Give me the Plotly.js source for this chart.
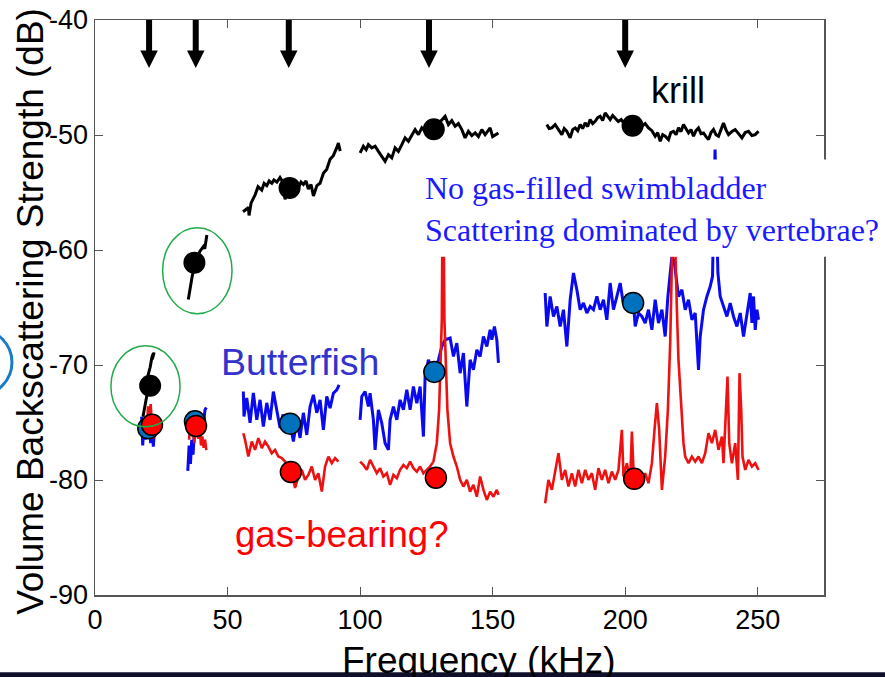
<!DOCTYPE html>
<html>
<head>
<meta charset="utf-8">
<script src="https://cdn.plot.ly/plotly-3.0.1.min.js"></script>
<style>html,body{margin:0;padding:0;background:#fff;}#chart{width:885px;height:677px;}</style>
</head>
<body>
<div id="chart"></div>
<script>
// ---------------- DATA ----------------
// Krill (black) spectra, by band segment
const krillF1 = [18.1, 18.9, 19.6, 20.0, 20.8, 21.5, 22.0, 21.6, 22.3];
const krillS1 = [-74.5, -73.5, -72.6, -70.9, -70.2, -69.3, -69.0, -69.5, -68.9];
const krillF2 = [35.2, 35.8, 36.5, 37.7, 39.6, 40.9, 41.4, 42.2];
const krillS2 = [-64.3, -63.4, -62.5, -61.1, -60.1, -59.7, -59.9, -58.7];
const krillF3 = [55.85, 57.9, 58.1, 58.9, 60.4, 61.5, 62.9, 63.8, 64.8, 65.7, 66.7, 67.5, 68.6, 69.8, 70.9, 71.7, 72.5, 73.6, 74.7, 75.8, 76.7, 77.7, 78.6, 79.6, 80.5, 81.5, 82.4, 83.7, 84.9, 86.2, 87.4, 88.7, 89.9, 91.2, 91.8, 92.5];
const krillS3 = [-56.67, -56.3, -57.0, -55.9, -55.2, -54.5, -54.8, -54.2, -54.4, -54.0, -54.2, -53.9, -54.1, -53.7, -54.1, -55.6, -54.4, -54.7, -55.0, -54.4, -54.6, -54.1, -54.3, -54.0, -54.7, -54.3, -55.3, -54.4, -54.2, -53.3, -53.0, -52.1, -51.8, -51.1, -50.7, -51.4];
const krillF4 = [100.0, 101.25, 102.3, 103.13, 104.42, 105.66, 106.91, 108.19, 109.43, 110.68, 111.96, 113.21, 114.45, 115.74, 116.98, 118.23, 119.51, 120.75, 122.0, 123.28, 124.53, 125.77, 127.06, 128.3, 129.55, 130.83, 132.08, 133.32, 134.6, 135.85, 137.09, 138.38, 139.62, 140.87, 142.15, 143.4, 144.64, 145.92, 147.17, 148.3, 149.06, 150.0, 150.94, 152.19];
const krillS4 = [-51.56, -50.98, -51.27, -50.84, -51.12, -50.98, -51.42, -51.85, -52.29, -51.71, -51.99, -51.12, -51.42, -50.84, -50.25, -50.55, -49.97, -49.53, -49.97, -49.38, -49.7, -49.27, -49.62, -49.53, -49.01, -48.66, -48.37, -49.09, -48.75, -49.24, -49.01, -49.53, -50.25, -49.68, -50.05, -49.82, -50.14, -49.53, -49.97, -49.62, -49.38, -50.14, -49.97, -49.82];
const krillF5 = [170.45, 171.3, 172.34, 173.58, 174.83, 176.11, 177.0, 178.0, 179.25, 180.2, 181.13, 182.1, 183.02, 183.96, 184.91, 185.85, 186.79, 187.74, 188.68, 189.62, 190.57, 191.51, 192.45, 193.4, 194.34, 195.28, 196.23, 197.4, 198.5, 199.6, 200.8, 202.53, 204.2, 206.3, 207.55, 208.79, 210.08, 211.32, 212.26, 213.21, 214.15, 215.09, 216.34, 217.2, 218.23, 219.2, 220.11, 221.05, 222.0, 222.94, 223.89, 224.83, 225.77, 226.72, 227.66, 228.6, 229.55, 230.49, 231.43, 232.38, 233.32, 234.26, 235.21, 236.15, 237.09, 238.0, 238.98, 240.26, 241.51, 242.75, 244.04, 245.28, 246.53, 247.81, 249.06, 250.3];
const krillS5 = [-49.09, -49.44, -49.38, -49.09, -49.53, -49.97, -49.44, -49.68, -50.25, -49.53, -49.38, -49.62, -49.09, -49.44, -48.95, -49.27, -48.66, -49.01, -48.81, -48.49, -48.37, -48.75, -48.08, -48.4, -48.66, -48.31, -48.51, -48.83, -48.66, -49.01, -48.75, -49.09, -48.92, -49.24, -49.01, -49.38, -49.62, -50.11, -49.79, -50.55, -49.97, -50.11, -50.4, -49.79, -49.68, -49.97, -49.38, -49.7, -49.09, -49.44, -49.82, -49.53, -50.11, -49.62, -49.38, -49.88, -49.82, -50.14, -50.4, -49.79, -49.53, -49.97, -50.11, -49.53, -48.95, -49.53, -49.97, -49.7, -49.53, -49.88, -50.25, -49.79, -49.68, -50.05, -49.97, -49.68];

// Butterfish, no swimbladder (blue)
const blueF1 = [17.6, 18.0, 18.5, 19.0, 19.5, 20.0, 20.5, 21.0, 21.5, 22.0, 22.5];
const blueS1 = [-74.5, -77.0, -74.8, -76.5, -75.0, -75.5, -74.9, -76.8, -75.2, -77.1, -75.5];
const blueF2 = [35.0, 35.5, 36.0, 36.5, 37.0, 37.5, 38.0, 38.5, 39.0, 39.5, 40.0, 40.5, 41.0, 41.5, 42.0];
const blueS2 = [-79.2, -77.0, -78.6, -76.5, -77.8, -75.6, -76.2, -75.0, -75.8, -74.9, -75.5, -74.6, -74.9, -73.9, -73.7];
const blueF3 = [55.96, 56.2, 57.25, 58.49, 59.74, 61.02, 62.26, 63.51, 64.79, 66.04, 67.28, 68.57, 69.81, 70.9, 72.5, 73.58, 74.83, 76.11, 77.36, 78.6, 79.89, 81.13, 82.38, 83.66, 84.91, 86.15, 87.43, 88.68, 89.92, 91.21, 92.08];
const blueS3 = [-72.31, -74.48, -72.86, -75.03, -72.42, -74.77, -73.03, -75.35, -73.29, -74.77, -72.31, -73.9, -75.47, -74.3, -75.6, -75.03, -76.66, -74.77, -76.34, -74.16, -76.08, -73.61, -72.59, -74.16, -73.03, -75.64, -72.74, -73.75, -72.45, -72.16, -71.72];
const blueF4 = [100.0, 100.64, 101.89, 103.13, 103.77, 105.02, 105.66, 106.91, 108.19, 109.43, 110.68, 111.32, 112.57, 113.85, 115.09, 116.34, 117.62, 118.87, 120.11, 121.4, 122.64, 123.89, 124.53, 125.77, 126.8, 128.3, 129.55, 130.83, 132.08, 133.96, 135.21, 136.49, 137.74, 138.98, 140.26, 141.51, 142.75, 144.04, 145.28, 146.53, 147.81, 149.06, 149.7, 150.68, 151.58, 152.19];
const blueS4 = [-74.77, -72.74, -72.31, -73.61, -72.45, -74.77, -77.38, -73.9, -75.06, -76.8, -77.38, -74.77, -73.61, -74.77, -73.03, -73.9, -72.16, -73.9, -71.87, -73.32, -71.87, -76.22, -71.0, -69.55, -70.25, -70.57, -69.55, -68.39, -67.81, -67.66, -69.26, -68.09, -70.71, -68.96, -73.61, -69.55, -70.42, -68.68, -69.26, -67.52, -68.39, -66.94, -67.81, -66.65, -67.81, -69.81];
const blueF5 = [169.81, 170.45, 171.7, 172.94, 174.23, 175.47, 176.72, 178.0, 179.25, 180.49, 181.77, 183.02, 184.26, 185.55, 186.79, 188.04, 189.32, 190.57, 191.81, 193.09, 194.34, 195.58, 196.87, 198.11, 199.36, 200.64, 201.89, 203.13, 203.77, 205.02, 206.3, 207.55, 208.79, 210.08, 211.32, 212.57, 213.85, 215.09, 216.11, 216.98, 217.62, 218.5, 219.2, 220.11, 221.4, 222.64, 223.89, 225.17, 226.42, 227.66, 228.3, 229.55, 230.83, 232.08, 232.94, 233.5, 233.9, 234.3, 234.98, 235.85, 237.09, 238.38, 239.62, 240.87, 242.15, 243.4, 244.64, 245.92, 247.17, 247.81, 248.42, 249.06, 249.7, 250.3];
const blueS5 = [-63.74, -66.65, -64.04, -65.78, -64.91, -66.65, -65.19, -68.39, -64.32, -62.0, -63.45, -65.19, -64.61, -65.48, -64.91, -65.19, -64.04, -65.19, -64.32, -66.07, -62.87, -65.19, -64.04, -62.87, -64.76, -63.89, -65.19, -64.61, -66.65, -65.48, -65.78, -66.35, -65.19, -66.94, -64.32, -66.35, -65.19, -67.52, -64.04, -62.3, -60.56, -61.0, -62.58, -64.04, -63.45, -65.19, -64.32, -66.07, -65.48, -70.42, -67.52, -65.19, -64.04, -63.17, -62.3, -55.6, -51.27, -55.6, -62.0, -64.04, -64.91, -65.78, -64.61, -65.78, -66.65, -65.48, -67.52, -65.78, -63.74, -66.35, -64.04, -66.94, -65.19, -66.07];

// Gas-bearing (red)
const redF1 = [18.5, 19.0, 19.5, 20.0, 20.5, 21.0, 21.5, 22.0, 22.5];
const redS1 = [-76.0, -74.5, -76.3, -73.6, -75.0, -73.4, -75.5, -76.4, -75.8];
const redF2 = [35.5, 36.0, 36.5, 37.0, 37.5, 38.0, 38.5, 39.0, 39.5, 40.0, 40.5, 41.0, 41.5, 42.0];
const redS2 = [-76.5, -74.8, -76.0, -75.3, -76.8, -75.0, -75.9, -76.4, -75.6, -77.0, -76.2, -77.2, -76.5, -77.4];
const redF3 = [55.96, 56.6, 57.85, 59.13, 60.38, 61.62, 62.91, 64.15, 65.4, 66.68, 67.92, 69.17, 70.45, 71.7, 72.94, 74.23, 75.47, 76.72, 78.0, 79.25, 80.49, 81.77, 83.02, 84.26, 85.55, 86.79, 88.04, 89.32, 90.57, 91.81];
const redS3 = [-75.93, -76.51, -77.96, -76.66, -77.38, -76.36, -77.23, -76.66, -77.09, -77.67, -77.38, -77.96, -78.1, -78.4, -78.83, -79.27, -80.69, -79.7, -79.12, -79.99, -79.56, -78.83, -79.99, -79.41, -81.01, -78.83, -77.96, -78.54, -78.1, -78.4];
const redF4 = [100.0, 101.25, 102.53, 103.77, 105.02, 106.3, 107.55, 108.79, 110.08, 111.32, 112.57, 113.85, 115.09, 116.34, 117.62, 118.87, 120.11, 121.4, 122.64, 123.89, 125.17, 126.42, 127.66, 128.94, 129.81, 130.45, 130.83, 131.06, 131.5, 131.81, 132.34, 132.94, 133.96, 135.21, 136.49, 137.74, 138.98, 140.26, 141.51, 142.75, 144.04, 145.28, 146.53, 147.81, 149.06, 150.3, 151.58, 152.19];
const redS4 = [-78.4, -78.69, -79.12, -78.25, -78.83, -79.41, -78.97, -79.7, -79.41, -80.43, -79.56, -79.84, -79.12, -78.69, -78.97, -78.4, -78.97, -79.27, -78.83, -79.41, -79.12, -78.83, -78.4, -76.8, -73.9, -69.55, -66.07, -57.4, -57.4, -66.07, -69.55, -73.9, -76.8, -77.96, -78.83, -79.99, -80.57, -79.99, -81.01, -80.43, -81.45, -79.7, -80.86, -81.73, -81.01, -81.45, -80.86, -81.3];
const redF5 = [169.81, 171.06, 172.34, 173.58, 174.83, 176.11, 177.36, 178.6, 179.89, 181.13, 182.38, 183.66, 184.91, 186.15, 187.43, 188.68, 189.92, 191.21, 192.45, 193.7, 194.98, 196.23, 197.47, 198.75, 199.36, 200.64, 201.89, 202.53, 203.13, 203.77, 205.02, 206.3, 207.55, 208.79, 210.08, 211.06, 211.96, 212.83, 213.85, 215.09, 216.11, 216.98, 217.62, 218.0, 218.6, 219.1, 219.51, 220.11, 221.4, 222.0, 222.64, 223.89, 225.17, 226.42, 227.66, 228.94, 230.19, 231.43, 232.72, 233.96, 235.21, 236.49, 237.09, 238.0, 238.6, 239.25, 240.26, 241.51, 242.53, 243.13, 243.77, 244.26, 245.28, 246.53, 247.81, 249.06, 250.3];
const redS5 = [-82.02, -79.99, -80.86, -79.12, -77.67, -79.99, -79.12, -80.57, -79.41, -80.57, -79.12, -80.28, -79.12, -79.99, -79.41, -80.86, -78.97, -79.99, -79.12, -80.28, -79.27, -79.99, -79.12, -75.64, -79.7, -78.54, -79.99, -75.79, -79.12, -79.7, -79.12, -79.99, -79.41, -80.28, -78.54, -75.64, -73.32, -75.64, -80.86, -77.96, -73.9, -68.09, -62.3, -57.0, -57.0, -62.3, -65.19, -69.55, -73.9, -76.8, -77.96, -78.54, -77.96, -78.4, -77.96, -78.54, -77.67, -75.93, -76.8, -75.64, -77.38, -76.22, -78.54, -73.9, -71.0, -76.8, -78.54, -76.8, -79.99, -70.71, -73.9, -77.96, -79.12, -78.25, -78.83, -78.54, -79.12];

// Echosounder-frequency summary points
const krillDotF = [20.8, 37.5, 73.4, 127.8, 202.8];
const krillDotS = [-71.8, -61.1, -54.6, -49.5, -49.2];
const blueDotF = [20.1, 37.7, 73.6, 128.0, 203.0];
const blueDotS = [-75.5, -74.9, -75.1, -70.6, -64.6];
const redDotF = [21.5, 38.1, 73.9, 128.6, 203.4];
const redDotS = [-75.2, -75.3, -79.3, -79.8, -79.9];

// Arrow positions (kHz)
const arrowFreqs = [20.4, 38.0, 73.1, 126.0, 200.0];

// Circled krill points [x0, x1, y0, y1]
const circledRegions = [[6.0, 32.1, -75.38, -68.33], [25.5, 51.7, -65.54, -58.06]];

// Axis ticks
const xTickVals = [0, 50, 100, 150, 200, 250];
const xTickText = ['0', '50', '100', '150', '200', '250'];
const yTickVals = [-90, -80, -70, -60, -50, -40];
const yTickText = ['-90', '-80', '-70', '-60', '-50', '-40'];

const xTitle = 'Frequency (kHz)';
const yTitle = 'Volume Backscattering Strength (dB)';

// ---------------- BUILD ----------------
function joinSegs(list) {
  const out = [];
  list.forEach((s, i) => { if (i) out.push(null); s.forEach(v => out.push(v)); });
  return out;
}
const FONT = 'Liberation Sans, Arial, Helvetica, sans-serif';
const SERIF = 'Liberation Serif, Times New Roman, serif';

const traces = [
  {x: joinSegs([krillF1, krillF2, krillF3, krillF4, krillF5]), y: joinSegs([krillS1, krillS2, krillS3, krillS4, krillS5]),
   mode: 'lines', line: {color: '#000000', width: 3}, connectgaps: false},
  {x: joinSegs([blueF1, blueF2, blueF3, blueF4, blueF5]), y: joinSegs([blueS1, blueS2, blueS3, blueS4, blueS5]),
   mode: 'lines', line: {color: '#0a0aee', width: 3}, connectgaps: false},
  {x: joinSegs([redF1, redF2, redF3, redF4, redF5]), y: joinSegs([redS1, redS2, redS3, redS4, redS5]),
   mode: 'lines', line: {color: '#ee1111', width: 2.6}, connectgaps: false},
  {x: blueDotF, y: blueDotS, mode: 'markers', marker: {size: 21, color: '#0072BD', line: {color: '#000', width: 1.5}}},
  {x: redDotF, y: redDotS, mode: 'markers', marker: {size: 21, color: '#ff0000', line: {color: '#000', width: 1.5}}},
  {x: krillDotF, y: krillDotS, mode: 'markers', marker: {size: 22, color: '#000000', line: {width: 0}}}
];

const shapes = [];
arrowFreqs.forEach(f => {
  shapes.push({type: 'line', xref: 'x', yref: 'y', x0: f, x1: f, y0: -40, y1: -42.8, line: {color: '#000', width: 6}});
  shapes.push({type: 'path', xref: 'x', yref: 'y', path: `M ${f - 3.3},-42.65 L ${f + 3.3},-42.65 L ${f},-44.18 Z`, fillcolor: '#000', line: {width: 0}});
});
circledRegions.forEach(r => {
  shapes.push({type: 'circle', xref: 'x', yref: 'y', x0: r[0], x1: r[1], y0: r[2], y1: r[3], line: {color: '#22aa4a', width: 1.5}});
});
// white label box covering part of the plot
shapes.push({type: 'rect', xref: 'paper', yref: 'paper', x0: 0.4458, x1: 1.1, y0: 0.5883, y1: 0.7572, fillcolor: '#ffffff', line: {width: 0}, layer: 'above'});
// partial blue circle at left edge
shapes.push({type: 'circle', xref: 'paper', yref: 'paper', x0: -0.2044, x1: -0.1139, y0: 0.3473, y1: 0.4621, line: {color: '#1a7cc8', width: 3}, layer: 'above'});
// dark strip at the bottom
shapes.push({type: 'rect', xref: 'paper', yref: 'paper', x0: -0.2, x1: 1.2, y0: -0.16, y1: -0.1345, fillcolor: '#10102a', line: {width: 0}, layer: 'above'});

const annotations = [
  {x: 220, y: -46.1, xref: 'x', yref: 'y', text: 'krill', showarrow: false, font: {family: FONT, size: 36, color: '#000'}, xanchor: 'center', yanchor: 'middle'},
  {x: 77.4, y: -69.7, xref: 'x', yref: 'y', text: 'Butterfish', showarrow: false, font: {family: FONT, size: 37.5, color: '#3333cc'}, xanchor: 'center', yanchor: 'middle'},
  {x: 93.0, y: -84.7, xref: 'x', yref: 'y', text: 'gas-bearing?', showarrow: false, font: {family: FONT, size: 36.6, color: '#ff0000'}, xanchor: 'center', yanchor: 'middle'},
  {x: 0.4500, y: 0.7424, xref: 'paper', yref: 'paper', text: 'No gas-filled swimbladder<br>Scattering dominated by vertebrae?', showarrow: false, align: 'left', font: {family: SERIF, size: 32, color: '#1a1aff'}, xanchor: 'left', yanchor: 'top'},
  // axis titles
  {x: 0.5267, y: -0.1144, xref: 'paper', yref: 'paper', text: xTitle, showarrow: false, font: {family: FONT, size: 37, color: '#000'}, xanchor: 'center', yanchor: 'middle'},
  {x: -0.0878, y: 0.4943, xref: 'paper', yref: 'paper', text: yTitle, textangle: -90, showarrow: false, font: {family: FONT, size: 37, color: '#000'}, xanchor: 'center', yanchor: 'middle'}
];

const axisCommon = {
  showgrid: false, zeroline: false, showline: true, linecolor: '#555', linewidth: 1.5,
  mirror: 'ticks', ticks: 'inside', ticklen: 8, tickwidth: 1, tickcolor: '#555',
  tickfont: {family: FONT, size: 27, color: '#000'}, tickmode: 'array'
};

const layout = {
  width: 885, height: 677,
  margin: {l: 95, r: 61, t: 20, b: 82, pad: 0},
  paper_bgcolor: '#ffffff', plot_bgcolor: '#ffffff',
  showlegend: false,
  font: {family: FONT, color: '#000'},
  xaxis: Object.assign({}, axisCommon, {range: [0, 275], tickvals: xTickVals, ticktext: xTickText}),
  yaxis: Object.assign({}, axisCommon, {range: [-90, -40], tickvals: yTickVals, ticktext: yTickText}),
  shapes: shapes,
  annotations: annotations
};

Plotly.newPlot('chart', traces, layout, {displayModeBar: false, staticPlot: true});
</script>
</body>
</html>
